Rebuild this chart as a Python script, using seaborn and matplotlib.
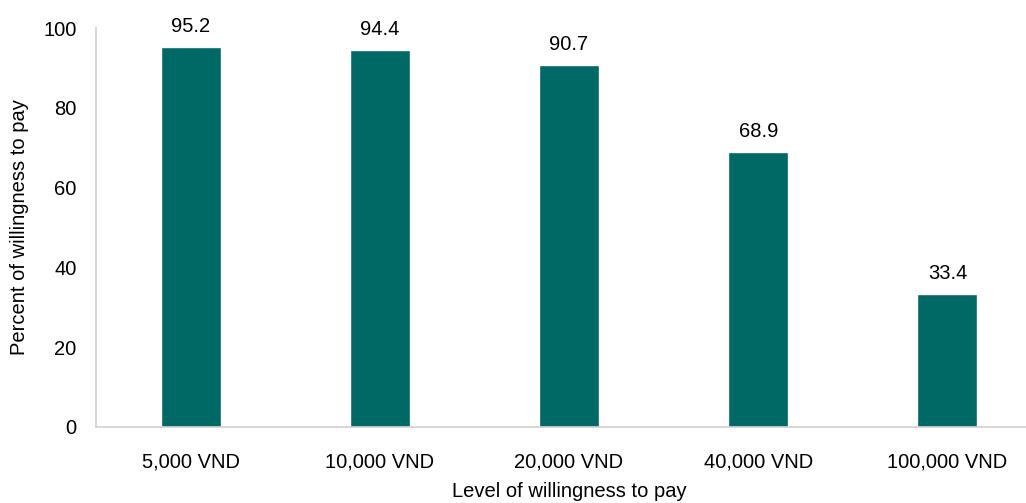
import matplotlib
matplotlib.use("Agg")
import matplotlib.pyplot as plt
import seaborn as sns
import pandas as pd

categories = ["5,000 VND", "10,000 VND", "20,000 VND", "40,000 VND", "100,000 VND"]
values = [95.2, 94.4, 90.7, 68.9, 33.4]
yticks = [0, 20, 40, 60, 80, 100]

sns.set_theme(style="white")
plt.rcParams['font.family'] = ['Liberation Sans', 'DejaVu Sans']

df = pd.DataFrame({"cat": categories, "val": values})

fig = plt.figure(figsize=(10.26, 5.03), dpi=100)
ax = fig.add_axes([96/1026, 76/503, 946/1026, 399/503])
sns.barplot(data=df, x="cat", y="val", color="#006966", saturation=1, width=0.317, ax=ax)
ax.set_xlim(-0.5, 4.5)
ax.set_ylim(0, 100)
ax.set_yticks(yticks)
ax.tick_params(axis="y", labelsize=14.5, colors="black", length=0, pad=14)
ax.tick_params(axis="x", labelsize=14.5, colors="black", length=0, pad=18)
for s in ["top", "right"]:
    ax.spines[s].set_visible(False)
for s in ["left", "bottom"]:
    ax.spines[s].set_color("#d0d0d0")
    ax.spines[s].set_linewidth(1.2)
for i, v in enumerate(values):
    ax.annotate(f"{v:.1f}", (i, v), xytext=(0, 8), textcoords="offset points",
                ha="center", va="bottom", fontsize=14.5, color="black")
ax.set_xlabel("Level of willingness to pay", fontsize=14.5, color="black")
ax.set_ylabel("Percent of willingness to pay", fontsize=14.5, color="black")
ax.xaxis.set_label_coords(0.5, -0.138)
ax.yaxis.set_label_coords(-0.071, 0.5)
fig.savefig("out.png", dpi=100)
